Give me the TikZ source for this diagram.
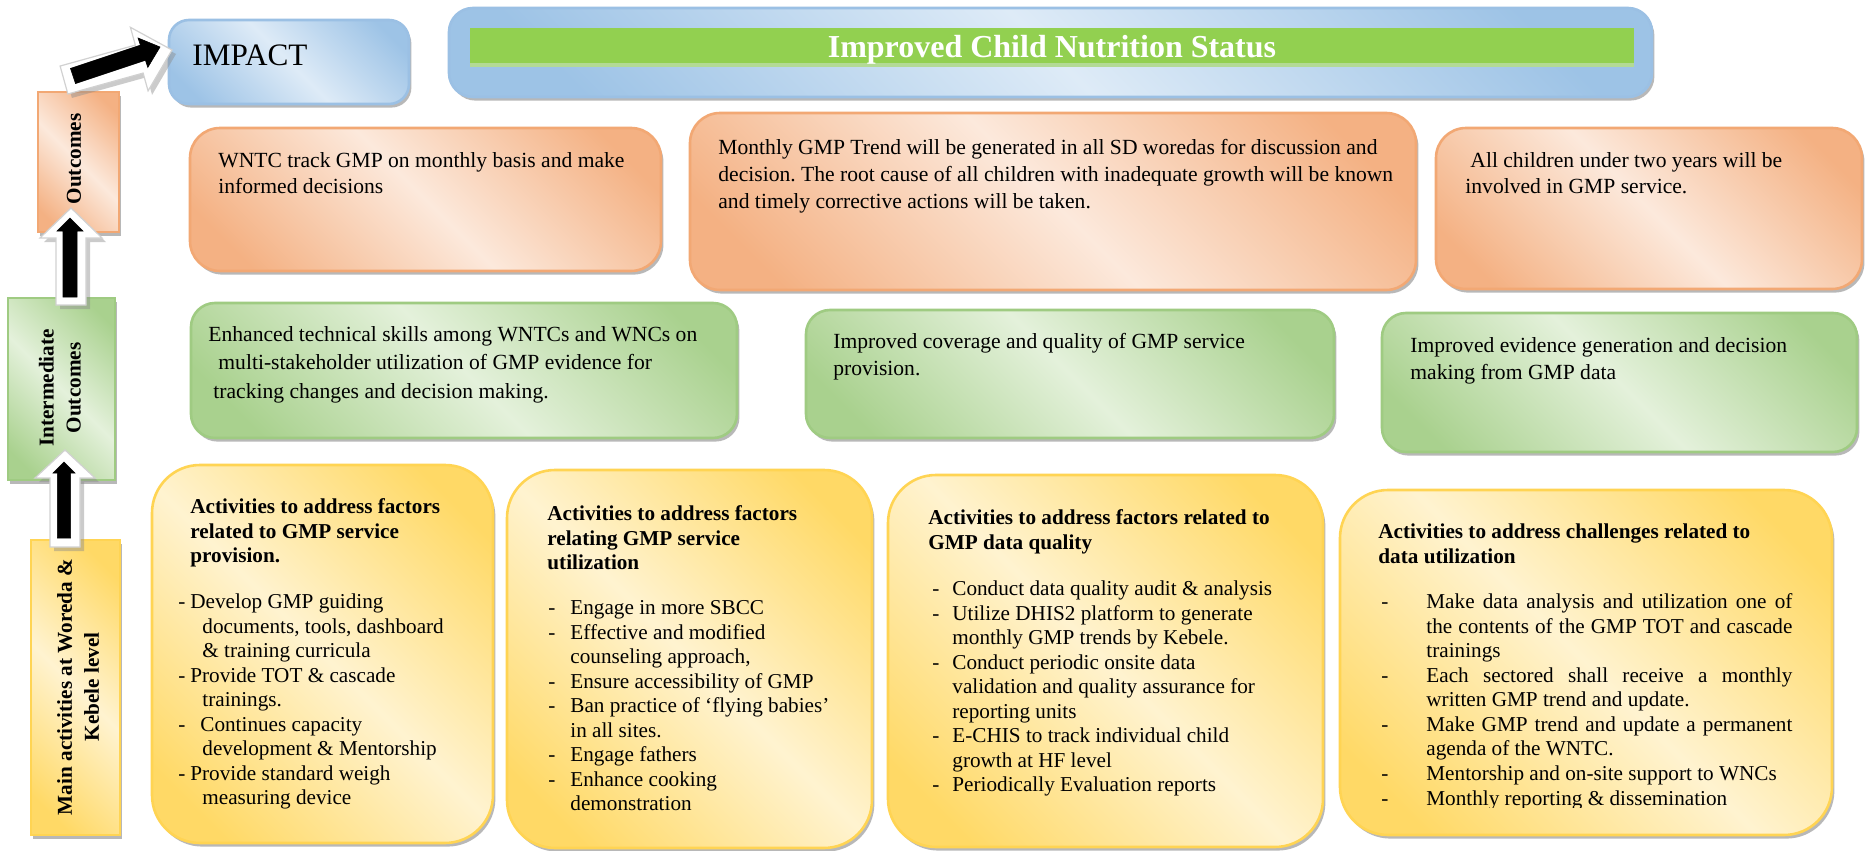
\documentclass[tikz,border=0pt]{standalone}
\usepackage{fontspec}
\setmainfont{Liberation Serif}
\usetikzlibrary{shadows,fit,calc}
\frenchspacing
\definecolor{orD}{HTML}{F4B183}
\definecolor{orL}{HTML}{FCE9DC}
\definecolor{orB}{HTML}{F2A874}
\definecolor{gnD}{HTML}{A9D18E}
\definecolor{gnL}{HTML}{E4F1DB}
\definecolor{gnB}{HTML}{9FCB82}
\definecolor{ylD}{HTML}{FFD966}
\definecolor{ylL}{HTML}{FFF3D0}
\definecolor{ylB}{HTML}{FFD453}
\definecolor{blD}{HTML}{9DC3E6}
\definecolor{blL}{HTML}{DEEBF7}
\definecolor{blB}{HTML}{9BC0E4}
\definecolor{barG}{HTML}{92D050}
\definecolor{barL}{HTML}{B3DA95}
\pgfdeclareverticalshading{shOr}{100bp}{color(0bp)=(orD); color(22bp)=(orD); color(50bp)=(orL); color(78bp)=(orD); color(100bp)=(orD)}
\pgfdeclareverticalshading{shGn}{100bp}{color(0bp)=(gnD); color(22bp)=(gnD); color(50bp)=(gnL); color(78bp)=(gnD); color(100bp)=(gnD)}
\pgfdeclareverticalshading{shYl}{100bp}{color(0bp)=(ylD); color(22bp)=(ylD); color(50bp)=(ylL); color(78bp)=(ylD); color(100bp)=(ylD)}
\pgfdeclareverticalshading{shBl}{100bp}{color(0bp)=(blD); color(22bp)=(blD); color(50bp)=(blL); color(78bp)=(blD); color(100bp)=(blD)}
\newcommand\dashitem[2]{\makebox[#1][l]{-}#2}
\newcommand\contline[2]{\hspace*{#1}#2}
\newcommand\justline[1]{\makebox[183pt][s]{#1}}
% block arrow: #1 style, #2 tail, #3 tip, #4 shaft half width, #5 head half width, #6 head length
\newcommand\blockarrow[6]{%
  \coordinate (tmpB) at ($(#3)!#6!(#2)$);
  \path[#1] ($(#2)!#4!90:(#3)$) -- ($(tmpB)!#4!90:(#3)$) -- ($(tmpB)!#5!90:(#3)$) -- (#3)
     -- ($(tmpB)!#5!-90:(#3)$) -- ($(tmpB)!#4!-90:(#3)$) -- ($(#2)!#4!-90:(#3)$) -- cycle;}
\tikzset{
  shbox/.style={shade, shading angle=-45, line width=1.3pt, inner sep=0pt, outer sep=0pt,
     drop shadow={shadow xshift=1.2pt, shadow yshift=-1.8pt, opacity=0.5, fill=black!55}},
  bluebox/.style={shbox, shading=shBl, draw=blB, rounded corners=10pt},
  orbox/.style={shbox, shading=shOr, draw=orB, rounded corners=15pt},
  gnbox/.style={shbox, shading=shGn, draw=gnB, rounded corners=12pt},
  ylbox/.style={shbox, shading=shYl, draw=ylB, rounded corners=24pt},
  orlab/.style={shbox, shading=shOr, draw=orB, line width=0.8pt},
  gnlab/.style={shbox, shading=shGn, draw=gnB, line width=0.8pt},
  yllab/.style={shbox, shading=shYl, draw=ylB, line width=0.8pt},
  txt/.style={inner sep=0pt, anchor=north west, align=left, font=\fontsize{10.8}{13.3}\selectfont},
  btxt/.style={inner sep=0pt, anchor=north west, align=left, font=\fontsize{10.6}{12.25}\selectfont},
  ttl/.style={btxt, font=\fontsize{10.6}{12.25}\selectfont\bfseries},
  vlab/.style={inner sep=0pt, rotate=90, align=center, font=\fontsize{10.6}{13.5}\selectfont\bfseries},
  whitearrow/.style={fill=white, draw=black!18, line width=0.6pt, line join=miter,
     drop shadow={shadow xshift=2pt, shadow yshift=-2pt, opacity=0.45, fill=black!45}},
  blackarrow/.style={fill=black, draw=black, line width=0.3pt}
}
\begin{document}
\begin{tikzpicture}[x=0.5pt,y=-0.5pt]
\useasboundingbox (0,0) rectangle (1865,851);
\fill[white] (0,0) rectangle (1865,851);

% top row
\node[bluebox, rounded corners=12pt, fit={(449,8)(1652,97)}] (banner) {};
\node[fill=barG, inner sep=0pt, fit={(470,28)(1634,63)}] (bar) {};
\node[fill=barL, inner sep=0pt, fit={(470,63)(1634,67)}] (barstrip) {};
\node[inner sep=0pt, anchor=base, text=white, font=\fontsize{16}{19}\selectfont\bfseries] (bartxt) at (1052,57) {Improved Child Nutrition Status};
\node[bluebox, fit={(169,20)(409,104)}] (impact) {};
\node[inner sep=0pt, anchor=base west, font=\fontsize{15.6}{18}\selectfont] (impacttxt) at (192,65) {IMPACT};

% outcomes row
\node[orbox, fit={(190,128)(661,271)}] (o1) {};
\node[orbox, fit={(690,113)(1416,290)}] (o2) {};
\node[orbox, fit={(1436,128)(1862,289)}] (o3) {};
\node[txt] (o1t) at (218,152) {WNTC track GMP on monthly basis and make\\informed decisions};
\node[txt, font=\fontsize{10.8}{13.4}\selectfont] (o2t) at (718,139) {Monthly GMP Trend will be generated in all SD woredas for discussion and\\decision. The root cause of all children with inadequate growth will be known\\and timely corrective actions will be taken.};
\node[txt] (o3t) at (1465,152) {\hspace*{2.5pt}All children under two years will be\\involved in GMP service.};

% intermediate row
\node[gnbox, fit={(191,303)(737,438)}] (i1) {};
\node[gnbox, fit={(806,310)(1334,438)}] (i2) {};
\node[gnbox, fit={(1382,313)(1857,452)}] (i3) {};
\node[txt, font=\fontsize{10.8}{14.25}\selectfont] (i1t) at (208,326) {Enhanced technical skills among WNTCs and WNCs on\\\hspace*{5pt}multi-stakeholder utilization of GMP evidence for\\\hspace*{2.5pt}tracking changes and decision making.};
\node[txt, font=\fontsize{10.8}{13.5}\selectfont] (i2t) at (833,333) {Improved coverage and quality of GMP service\\provision.};
\node[txt, font=\fontsize{10.8}{13.5}\selectfont] (i3t) at (1410,337) {Improved evidence generation and decision\\making from GMP data};

% activities row
\node[ylbox, fit={(152,465)(493,843)}] (a1) {};
\node[ylbox, fit={(507,470)(872,848)}] (a2) {};
\node[ylbox, fit={(888,475)(1323,847)}] (a3) {};
\node[ylbox, fit={(1340,490)(1832,835)}] (a4) {};

\node[ttl] (a1h) at (190,498.5) {Activities to address factors\\related to GMP service\\provision.};
\node[btxt] (a1b) at (178,593.5) {\dashitem{6pt}{Develop GMP guiding}\\
\contline{12pt}{documents, tools, dashboard}\\
\contline{12pt}{\& training curricula}\\
\dashitem{6pt}{Provide TOT \& cascade}\\
\contline{12pt}{trainings.}\\
\dashitem{11pt}{Continues capacity}\\
\contline{12pt}{development \& Mentorship}\\
\dashitem{6pt}{Provide standard weigh}\\
\contline{12pt}{measuring device}};

\node[ttl] (a2h) at (547,505.5) {Activities to address factors\\relating GMP service\\utilization};
\node[btxt] (a2b) at (548,600.5) {\dashitem{11pt}{Engage in more SBCC}\\
\dashitem{11pt}{Effective and modified}\\
\contline{11pt}{counseling approach,}\\
\dashitem{11pt}{Ensure accessibility of GMP}\\
\dashitem{11pt}{Ban practice of ‘flying babies’}\\
\contline{11pt}{in all sites.}\\
\dashitem{11pt}{Engage fathers}\\
\dashitem{11pt}{Enhance cooking}\\
\contline{11pt}{demonstration}};

\node[ttl] (a3h) at (928,509.5) {Activities to address factors related to\\GMP data quality};
\node[btxt] (a3b) at (932,580.5) {\dashitem{10pt}{Conduct data quality audit \& analysis}\\
\dashitem{10pt}{Utilize DHIS2 platform to generate}\\
\contline{10pt}{monthly GMP trends by Kebele.}\\
\dashitem{10pt}{Conduct periodic onsite data}\\
\contline{10pt}{validation and quality assurance for}\\
\contline{10pt}{reporting units}\\
\dashitem{10pt}{E-CHIS to track individual child}\\
\contline{10pt}{growth at HF level}\\
\dashitem{10pt}{Periodically Evaluation reports}};

\node[ttl] (a4h) at (1378,523.5) {Activities to address challenges related to\\data utilization};
\node[btxt] (a4b) at (1381,593.5) {\dashitem{22.5pt}{\justline{Make data analysis and utilization one of}}\\
\contline{22.5pt}{\justline{the contents of the GMP TOT and cascade}}\\
\contline{22.5pt}{trainings}\\
\dashitem{22.5pt}{\justline{Each sectored shall receive a monthly}}\\
\contline{22.5pt}{written GMP trend and update.}\\
\dashitem{22.5pt}{\justline{Make GMP trend and update a permanent}}\\
\contline{22.5pt}{agenda of the WNTC.}\\
\dashitem{22.5pt}{Mentorship and on-site support to WNCs}};
\begin{scope}
\clip (1340,785) rectangle (1832,807);
\node[btxt] (a4c) at (1381,790.5) {\dashitem{22.5pt}{Monthly reporting \& dissemination}};
\end{scope}

% level labels
\node[orlab, fit={(38,92)(119,232)}] (outbox) {};
\node[gnlab, fit={(8,298)(115,480)}] (intbox) {};
\node[yllab, fit={(31,540)(120,835)}] (mainbox) {};
\node[vlab] (outl) at (74,159) {Outcomes};
\node[vlab] (intl) at (60,388) {Intermediate\\Outcomes};
\node[vlab] (mainl) at (78,687) {Main activities at Woreda \&\\Kebele level};

% block arrows
\coordinate (dWt) at (64,80);   \coordinate (dWh) at (172,50);
\coordinate (dKt) at (73,76);   \coordinate (dKh) at (160,47);
\coordinate (u1Wt) at (71,305); \coordinate (u1Wh) at (71,208);
\coordinate (u1Kt) at (70,297); \coordinate (u1Kh) at (70,218);
\coordinate (u2Wt) at (65,547); \coordinate (u2Wh) at (65,450);
\coordinate (u2Kt) at (64,538); \coordinate (u2Kh) at (64,462);

\blockarrow{whitearrow}{dWt}{dWh}{7.25pt}{16.5pt}{17pt}
\blockarrow{blackarrow}{dKt}{dKh}{4pt}{7.75pt}{9pt}
\blockarrow{whitearrow}{u1Wt}{u1Wh}{7.5pt}{15.5pt}{15pt}
\blockarrow{blackarrow}{u1Kt}{u1Kh}{3.5pt}{6.5pt}{6.5pt}
\blockarrow{whitearrow}{u2Wt}{u2Wh}{7.5pt}{15pt}{14pt}
\blockarrow{blackarrow}{u2Kt}{u2Kh}{3.3pt}{5.5pt}{5.5pt}
\end{tikzpicture}
\end{document}
